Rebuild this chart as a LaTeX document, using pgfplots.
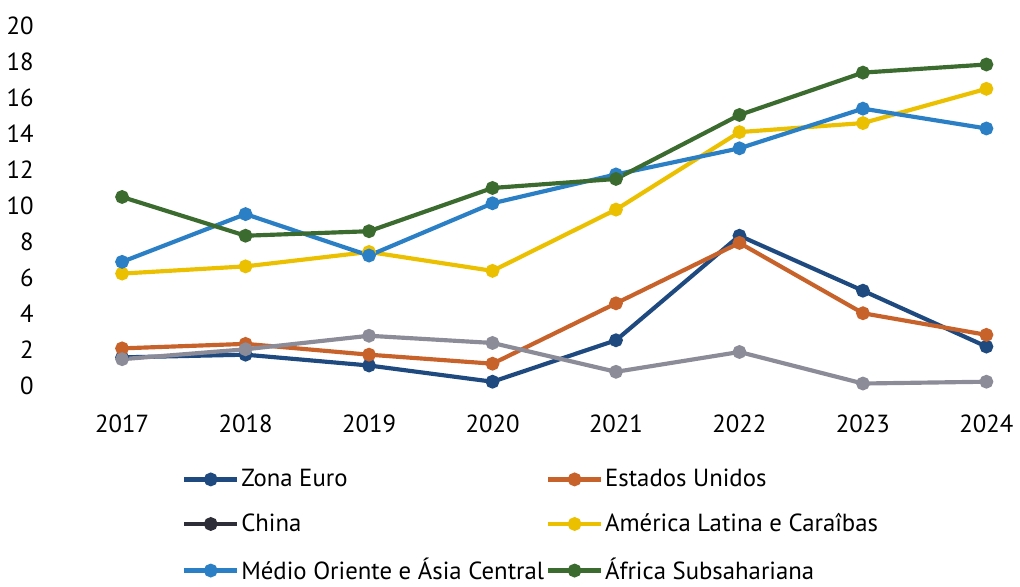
\documentclass[border=0pt]{standalone}
\usepackage{pgfplots}
\pgfplotsset{compat=1.18}
\usepackage{fontspec}
\setmainfont{PT Sans}
\definecolor{euro}{HTML}{1F4A80}
\definecolor{usa}{HTML}{C8622B}
\definecolor{china}{HTML}{8C8C99}
\definecolor{chinaleg}{HTML}{2E2E38}
\definecolor{latam}{HTML}{EBC000}
\definecolor{meca}{HTML}{2B7FC4}
\definecolor{ssa}{HTML}{3B6B2E}
\begin{document}
\begin{tikzpicture}
\begin{axis}[
  name=ax,
  scale only axis,
  width=485pt, height=182pt,
  xmin=-0.66, xmax=7.12,
  ymin=0, ymax=20,
  ytick={0,2,...,20},
  xtick={0,...,7},
  xticklabels={2017,2018,2019,2020,2021,2022,2023,2024},
  axis line style={draw=none},
  major tick length=0pt,
  /pgf/number format/assume math mode=true,
  ticklabel style={font=\fontsize{12.5}{14}\selectfont},
  xticklabel shift=11pt,
  yticklabel style={anchor=east, xshift=0pt},
  clip=false,
  every axis plot/.append style={line width=2.1pt, mark=*, mark size=2.4pt},
  legend columns=2,
  legend cell align=left,
  legend style={draw=none, fill=none, at={(0.147,-0.218)}, anchor=north west,
    inner sep=0pt, font=\fontsize{12.5}{14}\selectfont,
    nodes={inner xsep=1pt},
    row sep=8pt},
  legend image code/.code={\draw[mark repeat=2,mark phase=2] plot coordinates {(0cm,0cm) (0.47cm,0cm) (0.94cm,0cm)};},
]
\addplot[color=euro] coordinates {(0,1.6) (1,1.75) (2,1.15) (3,0.25) (4,2.55) (5,8.35) (6,5.3) (7,2.2)};
\addlegendentry{Zona Euro}
\addplot[color=usa] coordinates {(0,2.1) (1,2.35) (2,1.75) (3,1.25) (4,4.6) (5,7.95) (6,4.05) (7,2.85)};
\addlegendentry{Estados Unidos}
\addplot[color=china, legend image post style={draw=chinaleg, fill=chinaleg}] coordinates {(0,1.5) (1,2.05) (2,2.8) (3,2.4) (4,0.8) (5,1.9) (6,0.15) (7,0.25)};
\addlegendentry{China}
\addplot[color=latam] coordinates {(0,6.25) (1,6.65) (2,7.45) (3,6.4) (4,9.8) (5,14.1) (6,14.6) (7,16.5)};
\addlegendentry{América Latina e Caraîbas}
\addplot[color=meca] coordinates {(0,6.9) (1,9.55) (2,7.25) (3,10.15) (4,11.75) (5,13.2) (6,15.4) (7,14.3)};
\addlegendentry{Médio Oriente e Ásia Central}
\addplot[color=ssa] coordinates {(0,10.5) (1,8.35) (2,8.6) (3,11.0) (4,11.5) (5,15.05) (6,17.4) (7,17.85)};
\addlegendentry{África Subsahariana}
\end{axis}
\path (ax.north west) ++(0,13pt);
\end{tikzpicture}
\end{document}
